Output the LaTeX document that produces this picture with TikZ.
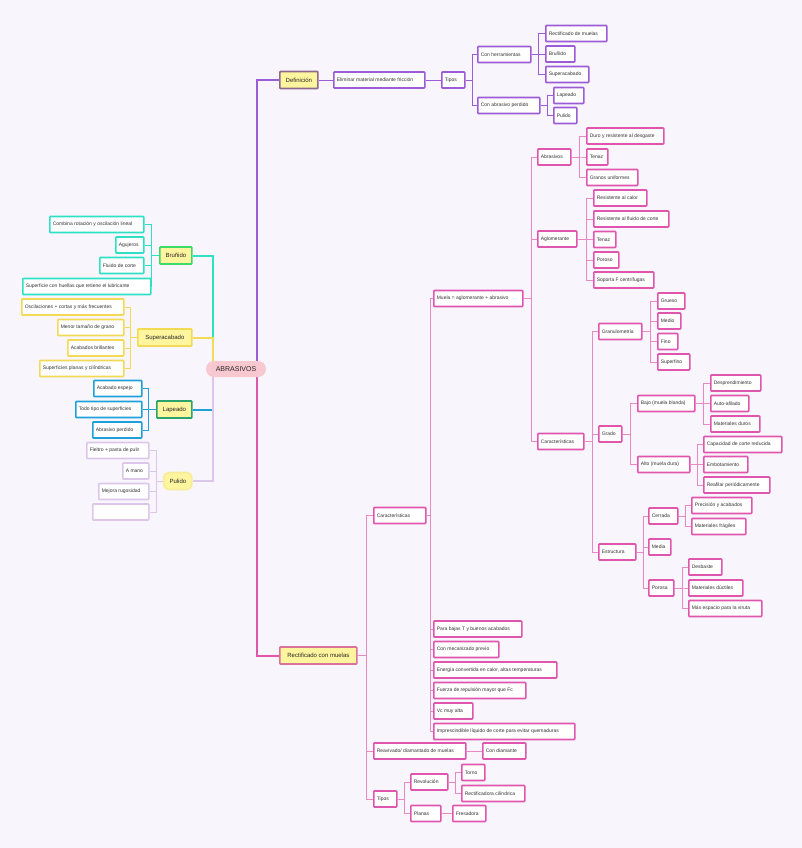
\documentclass[tikz,border=0pt]{standalone}
\usepackage{fontspec}
\setmainfont{Liberation Sans}
\usetikzlibrary{calc}
\definecolor{bg}{HTML}{F8F6FC}
\definecolor{pur}{HTML}{9B5CD6}
\definecolor{pnk}{HTML}{E056AE}
\definecolor{pnkl}{HTML}{E888C4}
\definecolor{teal}{HTML}{2EE0C6}
\definecolor{yel}{HTML}{F3DA55}
\definecolor{blu}{HTML}{1FA0D8}
\definecolor{lav}{HTML}{DCC6EA}
\definecolor{nyel}{HTML}{FFF59E}
\definecolor{grn}{HTML}{3DD96B}
\definecolor{dgrn}{HTML}{2BA36B}
\definecolor{defb}{HTML}{8F6A8E}
\definecolor{rectb}{HTML}{D9739B}
\definecolor{cfill}{HTML}{F8C8D0}
\definecolor{pyb}{HTML}{F7EC9A}
\definecolor{txt}{HTML}{333333}
\tikzset{
  bx/.style={draw, line width=1.6pt, fill=white, rounded corners=0.8pt, inner xsep=3pt, inner ysep=0pt,
    minimum height=16pt, anchor=west, font=\fontsize{5}{6}\selectfont, text=txt},
  pk/.style={bx, draw=pnk},
  pu/.style={bx, draw=pur},
  te/.style={bx, draw=teal},
  ye/.style={bx, draw=yel},
  bl/.style={bx, draw=blu},
  la/.style={bx, draw=lav},
  mainnode/.style={bx, fill=nyel, inner xsep=2pt, minimum height=17pt, font=\fontsize{6}{7}\selectfont, line width=1.7pt, text=black!85},
  cpk/.style={draw=pnkl, line width=0.9pt},
  cpu/.style={draw=pur, line width=0.9pt},
  cte/.style={draw=teal, line width=1pt},
  cye/.style={draw=yel, line width=1pt},
  cbl/.style={draw=blu, line width=1pt},
  cla/.style={draw=lav, line width=1pt},
  trunk/.style={line width=2pt},
}
% left-aligned box: style, name, x1, x2, yc, text
\newcommand{\bnode}[6]{\node[#1] (#2) at (#3,#5) {\makebox[\dimexpr #4pt-#3pt-6pt\relax][l]{#6}};}
% centred main box
\newcommand{\mnode}[6]{\node[#1, minimum width={(#4-#3)*1pt}] (#2) at (#3,#5) {#6};}
\newcommand{\cR}[4]{\draw[#1] (#2.east) -- ++(#3,0) |- (#4.west);}
\newcommand{\cL}[4]{\draw[#1] (#2.west) -- ++(-#3,0) |- (#4.east);}
\begin{document}
\begin{tikzpicture}[x=1pt,y=-1pt]
\useasboundingbox (0,0) rectangle (802,848);
\fill[bg] (0,0) rectangle (802,848);

% ---------- Definicion branch (purple)
\mnode{mainnode,draw=defb}{D}{279}{317}{80}{Definición}
\bnode{pu}{E}{333}{424}{80}{Eliminar material mediante fricción}
\bnode{pu}{T1}{441}{464}{80}{Tipos}
\bnode{pu}{CH}{477}{530}{54.5}{Con herramientas}
\bnode{pu}{CA}{477}{539}{105.5}{Con abrasivo perdido}
\bnode{pu}{RM}{545}{606}{33.5}{Rectificado de muelas}
\bnode{pu}{BR2}{545}{574}{54}{Bruñido}
\bnode{pu}{SA2}{545}{588}{74.5}{Superacabado}
\bnode{pu}{LP2}{553}{583}{95.5}{Lapeado}
\bnode{pu}{PU2}{553}{576}{115.5}{Pulido}

% ---------- Rectificado con muelas branch (pink)
\mnode{mainnode,draw=rectb}{R}{279}{356}{655.5}{Rectificado con muelas}
\bnode{pk}{C2}{373}{425}{515.5}{Características}
\bnode{pk}{RV}{373}{465}{751}{Reavivado/ diamantado de muelas}
\bnode{pk}{CD}{482}{525}{751}{Con diamante}
\bnode{pk}{T2}{373}{396}{799}{Tipos}
\bnode{pk}{RE}{410}{447}{782}{Revolución}
\bnode{pk}{TO}{461}{484}{772.5}{Torno}
\bnode{pk}{RC}{461}{524}{793.5}{Rectificadora cilíndrica}
\bnode{pk}{PL}{410}{440}{813.5}{Planas}
\bnode{pk}{FR}{452}{485}{813.5}{Fresadora}

\bnode{pk}{MU}{433}{522}{298.5}{Muela = aglomerante + abrasivo}
\bnode{pk}{P1}{433}{521}{629}{Para bajas T y buenos acabados}
\bnode{pk}{P2}{433}{498}{649.5}{Con mecanizado previo}
\bnode{pk}{P3}{433}{556}{670}{Energía convertida en calor, altas temperaturas}
\bnode{pk}{P4}{433}{525}{690.5}{Fuerza de repulsión mayor que Fc}
\bnode{pk}{P5}{433}{472}{711}{Vc muy alta}
\bnode{pk}{P6}{433}{574}{731.5}{Imprescindible líquido de corte para evitar quemaduras}

\bnode{pk}{AB}{537}{570}{157}{Abrasivos}
\bnode{pk}{AG}{537}{576}{239}{Aglomerante}
\bnode{pk}{C3}{537}{583}{441.5}{Características}

\bnode{pk}{A1}{586}{663}{136}{Duro y resistente al desgaste}
\bnode{pk}{A2}{586}{607}{157}{Tenaz}
\bnode{pk}{A3}{586}{637}{177.5}{Granos uniformes}

\bnode{pk}{G1}{593}{646}{198}{Resistente al calor}
\bnode{pk}{G2}{593}{668}{219}{Resistente al fluido de corte}
\bnode{pk}{G3}{593}{615}{239.5}{Tenaz}
\bnode{pk}{G4}{593}{618}{260}{Poroso}
\bnode{pk}{G5}{593}{653}{280}{Soporta F centrífugas}

\bnode{pk}{GR}{598}{641}{331.5}{Granulometría}
\bnode{pk}{GD}{598}{621}{434}{Grado}
\bnode{pk}{ES}{598}{635}{552}{Estructura}

\bnode{pk}{GRa}{657}{684}{301}{Grueso}
\bnode{pk}{GRb}{657}{680}{321}{Medio}
\bnode{pk}{GRc}{657}{677}{341.5}{Fino}
\bnode{pk}{GRd}{657}{689}{362}{Superfino}

\bnode{pk}{BJ}{637}{694}{403.5}{Bajo (muela blanda)}
\bnode{pk}{AL}{637}{689}{464.5}{Alto (muela dura)}

\bnode{pk}{B1}{710}{760}{383}{Desprendimiento}
\bnode{pk}{B2}{710}{748}{403.5}{Auto-afilado}
\bnode{pk}{B3}{710}{759}{424}{Materiales duros}

\bnode{pk}{L1}{703}{781}{444.5}{Capacidad de corte reducida}
\bnode{pk}{L2}{703}{747}{464.5}{Embotamiento}
\bnode{pk}{L3}{703}{769}{485}{Reafilar periódicamente}

\bnode{pk}{CE}{648}{677}{516}{Cerrada}
\bnode{pk}{ME}{648}{670}{547}{Media}
\bnode{pk}{PO}{648}{673}{588}{Porosa}

\bnode{pk}{CEa}{691}{751}{505.5}{Precisión y acabados}
\bnode{pk}{CEb}{691}{745}{526.5}{Materiales frágiles}

\bnode{pk}{POa}{688}{721}{567}{Desbaste}
\bnode{pk}{POb}{688}{742}{588}{Materiales dúctiles}
\bnode{pk}{POc}{688}{761}{608.5}{Más espacio para la viruta}

% ---------- Left side
\mnode{mainnode,draw=grn}{BR}{159}{191}{255.5}{Bruñido}
\bnode{te}{BRa}{49}{143}{224.5}{Combina rotación y oscilación lineal}
\bnode{te}{BRb}{115}{143}{245}{Agujeros}
\bnode{te}{BRc}{99}{143}{265.5}{Fluido de corte}
\bnode{te}{BRd}{22}{150}{286.5}{Superficie con huellas que retiene el lubricante}

\mnode{mainnode,draw=yel}{SC}{137}{191}{337.5}{Superacabado}
\bnode{ye}{SCa}{21}{123}{307}{Oscilaciones + cortas y más frecuentes}
\bnode{ye}{SCb}{57}{123}{327.5}{Menor tamaño de grano}
\bnode{ye}{SCc}{67}{123}{348}{Acabados brillantes}
\bnode{ye}{SCd}{39}{123}{368.5}{Superficies planas y cilíndricas}

\mnode{mainnode,draw=dgrn}{LP}{156}{191}{409.5}{Lapeado}
\bnode{bl}{LPa}{93}{141}{388.5}{Acabado espejo}
\bnode{bl}{LPb}{75}{141}{409.5}{Todo tipo de superficies}
\bnode{bl}{LPc}{92}{141}{430}{Abrasivo perdido}

\mnode{mainnode,draw=pyb,rounded corners=5pt}{PU}{163}{191}{481}{Pulido}
\bnode{la}{PUa}{86}{148}{450.5}{Fieltro + pasta de pulir}
\bnode{la}{PUb}{122}{148}{471}{A mano}
\bnode{la}{PUc}{98}{148}{491.5}{Mejora rugosidad}
\bnode{la}{PUd}{92}{148}{512}{}

% ---------- connectors
% purple
\draw[cpu] (D.east) -- (E.west);
\draw[cpu] (E.east) -- (T1.west);
\foreach \c in {CH,CA} {\cR{cpu}{T1}{6.5}{\c}}
\foreach \c in {RM,BR2,SA2} {\cR{cpu}{CH}{7}{\c}}
\foreach \c in {LP2,PU2} {\cR{cpu}{CA}{7}{\c}}
% pink
\foreach \c in {C2,RV,T2} {\cR{cpk}{R}{9}{\c}}
\draw[cpk] (RV.east) -- (CD.west);
\foreach \c in {RE,PL} {\cR{cpk}{T2}{7}{\c}}
\foreach \c in {TO,RC} {\cR{cpk}{RE}{7}{\c}}
\draw[cpk] (PL.east) -- (FR.west);
\foreach \c in {MU,P1,P2,P3,P4,P5,P6} {\cR{cpk}{C2}{4}{\c}}
\foreach \c in {AB,AG,C3} {\cR{cpk}{MU}{8}{\c}}
\foreach \c in {A1,A2,A3} {\cR{cpk}{AB}{8}{\c}}
\foreach \c in {G1,G2,G3,G4,G5} {\cR{cpk}{AG}{8.5}{\c}}
\foreach \c in {GR,GD,ES} {\cR{cpk}{C3}{7.5}{\c}}
\foreach \c in {GRa,GRb,GRc,GRd} {\cR{cpk}{GR}{8}{\c}}
\foreach \c in {BJ,AL} {\cR{cpk}{GD}{8}{\c}}
\foreach \c in {B1,B2,B3} {\cR{cpk}{BJ}{8}{\c}}
\foreach \c in {L1,L2,L3} {\cR{cpk}{AL}{7}{\c}}
\foreach \c in {CE,ME,PO} {\cR{cpk}{ES}{6.5}{\c}}
\foreach \c in {CEa,CEb} {\cR{cpk}{CE}{7}{\c}}
\foreach \c in {POa,POb,POc} {\cR{cpk}{PO}{7.5}{\c}}
% left
\foreach \c in {BRa,BRb,BRc,BRd} {\cL{cte}{BR}{8}{\c}}
\foreach \c in {SCa,SCb,SCc,SCd} {\cL{cye}{SC}{7}{\c}}
\foreach \c in {LPa,LPb,LPc} {\cL{cbl}{LP}{7.5}{\c}}
\foreach \c in {PUa,PUb,PUc,PUd} {\cL{cla}{PU}{6.5}{\c}}

% ---------- main branches
\coordinate (cRt) at (257,364);
\coordinate (cRb) at (257,374);
\coordinate (cLt) at (213,364);
\coordinate (cLb) at (213,374);
\draw[trunk, pur] (cRt) |- (D.west);
\draw[trunk, pnk] (cRb) |- (R.west);
\draw[trunk, teal] (BR.east) -| (cLt);
\draw[trunk, yel] (SC.east) -| (cLt);
\draw[trunk, blu] (LP.east) -| (cLb);
\draw[trunk, lav] (PU.east) -| (cLb);

% ---------- center
\node[fill=cfill, rounded corners=8pt, minimum width=60pt, minimum height=16pt, inner sep=0pt,
  font=\fontsize{7}{8}\selectfont, text=black!85] (C) at (236,369) {ABRASIVOS};
\end{tikzpicture}
\end{document}
